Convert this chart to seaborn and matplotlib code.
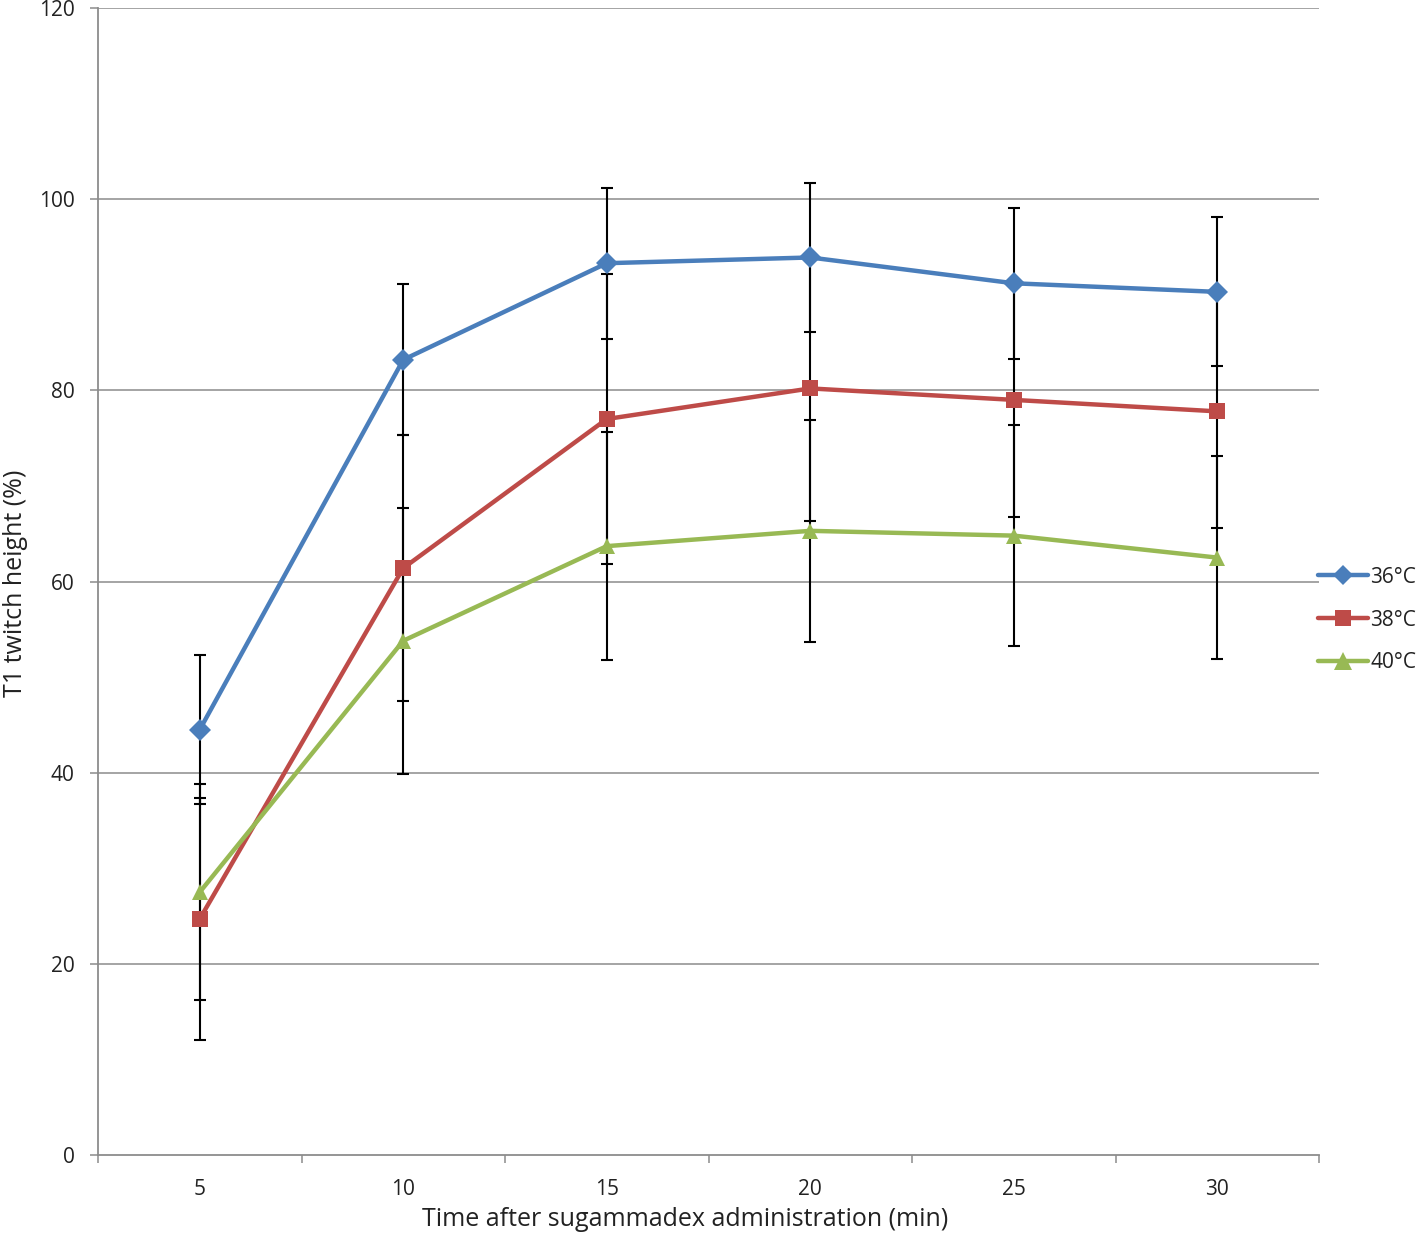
import numpy as np
import pandas as pd
import matplotlib
matplotlib.use("Agg")
import matplotlib.pyplot as plt
import seaborn as sns
from matplotlib.lines import Line2D

# ---- data ----
times = ["5", "10", "15", "20", "25", "30"]
series_names = ["36°C", "38°C", "40°C"]
mean_36 = [44.5, 83.2, 93.3, 93.9, 91.2, 90.3]
mean_38 = [24.7, 61.4, 77.0, 80.2, 79.0, 77.8]
mean_40 = [27.5, 53.8, 63.7, 65.3, 64.8, 62.5]
err_36 = [7.8, 7.9, 7.9, 7.8, 7.9, 7.8]
err_38 = [12.7, 13.9, 15.2, 13.9, 12.3, 12.2]
err_40 = [11.3, 13.9, 11.9, 11.6, 11.6, 10.6]
y_ticks = [0, 20, 40, 60, 80, 100, 120]
x_label = "Time after sugammadex administration (min)"
y_label = "T1 twitch height (%)"

means = [mean_36, mean_38, mean_40]
errs = [err_36, err_38, err_40]
colors = ["#4A7EBB", "#BE4B48", "#98B954"]
markers = ["D", "s", "^"]
msizes = [10.5, 12, 12.5]

rows = []
for name, m, e in zip(series_names, means, errs):
    for i, (t, v, ee) in enumerate(zip(times, m, e)):
        rows.append({"idx": i, "time": t, "series": name, "value": v, "err": ee})
df = pd.DataFrame(rows)

sns.set_theme(style="white")
plt.rcParams["font.family"] = ["Open Sans", "DejaVu Sans"]

fig = plt.figure(figsize=(14.18, 12.35), dpi=100)
ax = fig.add_axes([98 / 1418, 80 / 1235, (1319 - 98) / 1418, (1155 - 8) / 1235])

grid_c = "#8C8C8C"
txt_c = "#222222"
for yv in y_ticks[1:]:
    ax.axhline(yv, color=grid_c, lw=1.1, zorder=0)

# error bars
for name in series_names:
    sub = df[df.series == name]
    ax.errorbar(sub["idx"], sub["value"], yerr=sub["err"], fmt="none",
                ecolor="black", elinewidth=1.5, capsize=4.5, capthick=1.5, zorder=2)

sns.lineplot(data=df, x="idx", y="value", hue="series", style="series",
             palette=dict(zip(series_names, colors)),
             markers=dict(zip(series_names, markers)), dashes=False,
             lw=3.2, markersize=11, markeredgewidth=0, ax=ax, zorder=3, legend=False)
for line, ms in zip(ax.lines, msizes):
    line.set_markersize(ms)

ax.set_xlim(-0.5, len(times) - 0.5)
ax.set_ylim(0, 120)
ax.set_yticks(y_ticks)
ax.set_xticks(range(len(times)))
ax.set_xticklabels(times)
ax.set_xticks(np.arange(-0.5, len(times)), minor=True)
ax.tick_params(axis="x", which="major", length=0, pad=17, labelsize=15, colors=txt_c)
ax.tick_params(axis="x", which="minor", length=6, width=1.1, color=grid_c, direction="out", bottom=True)
ax.tick_params(axis="y", which="major", length=6, width=1.1, color=grid_c, direction="out", left=True, pad=11,
               labelsize=15, labelcolor=txt_c)
for s in ["top", "right"]:
    ax.spines[s].set_visible(False)
for s in ["left", "bottom"]:
    ax.spines[s].set_color(grid_c)
    ax.spines[s].set_linewidth(1.3)
ax.grid(False)

ax.set_xlabel(x_label, fontsize=18, color=txt_c)
ax.set_ylabel(y_label, fontsize=18, color=txt_c)
ax.xaxis.set_label_coords((685 - 98) / (1319 - 98), -(1219 - 1155) / (1155 - 8), transform=ax.transAxes)
ax.xaxis.label.set_va("center")
ax.yaxis.set_label_coords(-(98 - 16) / (1319 - 98), (1155 - 583) / (1155 - 8), transform=ax.transAxes)
ax.yaxis.label.set_va("center")

handles = [Line2D([0], [0], color=c, lw=3.2, marker=mk, markersize=ms, markeredgewidth=0)
           for c, mk, ms in zip(colors, markers, msizes)]
fig.legend(handles, series_names, loc="center left", bbox_to_anchor=(1318 / 1418, 1 - 620 / 1235),
           frameon=False, fontsize=15, handlelength=2.4, handletextpad=0.1, labelspacing=1.05,
           borderaxespad=0, borderpad=0, labelcolor=txt_c)

fig.savefig("out.png", dpi=100)
